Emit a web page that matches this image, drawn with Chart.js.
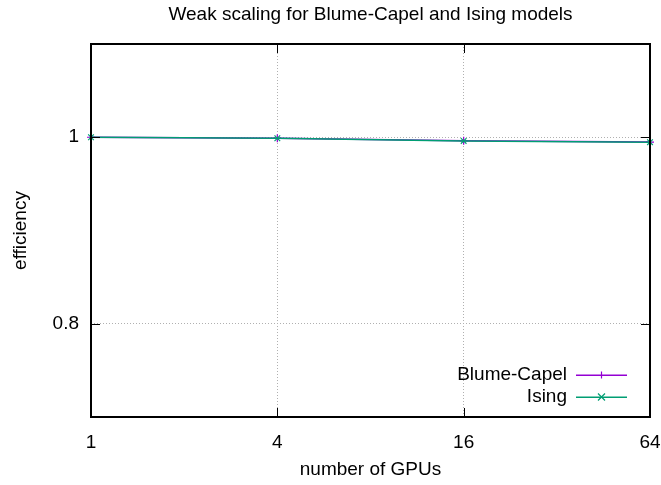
<!DOCTYPE html>
<html><head><meta charset="utf-8">
<script src="https://cdn.jsdelivr.net/npm/chart.js@4"></script>
<style>html,body{margin:0;padding:0;background:#fff}#wrap{width:661px;height:485px}</style>
</head><body><div id="wrap"><canvas id="c" width="661" height="485"></canvas></div>
<script>
const gpus = [1, 4, 16, 64];
const blumeCapel = [1.0, 0.9990, 0.9963, 0.9948];
const ising = [1.0, 0.9989, 0.9961, 0.9947];
const xTicks = [1, 4, 16, 64];
const yTicks = [0.8, 1.0];
const titleText = 'Weak scaling for Blume-Capel and Ising models';
const FONT = "'Liberation Sans', Arial, sans-serif";
const FS = 19;
const COLORS = ['#9400d3', '#009e73'];

const frame = {
  id: 'frame',
  afterDraw(chart) {
    const {ctx, chartArea: a, scales: {x, y}} = chart;
    ctx.save();
    ctx.setLineDash([]);
    ctx.globalAlpha = 1;
    ctx.strokeStyle = '#000';
    ctx.lineWidth = 1;
    ctx.beginPath();
    xTicks.forEach(v => {
      const px = Math.round(x.getPixelForValue(v)) + 0.5;
      ctx.moveTo(px, a.bottom); ctx.lineTo(px, a.bottom - 9);
      ctx.moveTo(px, a.top); ctx.lineTo(px, a.top + 9);
    });
    yTicks.forEach(v => {
      const py = Math.round(y.getPixelForValue(v)) + 0.5;
      ctx.moveTo(a.left, py); ctx.lineTo(a.left + 9, py);
      ctx.moveTo(a.right, py); ctx.lineTo(a.right - 9, py);
    });
    ctx.stroke();
    ctx.lineWidth = 2;
    ctx.strokeRect(a.left, a.top, a.right - a.left, a.bottom - a.top);
    // title
    ctx.font = FS + 'px ' + FONT;
    ctx.fillStyle = '#000';
    ctx.textAlign = 'center';
    ctx.textBaseline = 'middle';
    ctx.fillText(titleText, (a.left + a.right) / 2, 15);
    // legend
    ctx.textAlign = 'right';
    const items = chart.data.datasets;
    items.forEach((ds, i) => {
      const ly = 375 + i * 22;
      ctx.fillStyle = '#000';
      ctx.fillText(ds.label, 567, ly);
      ctx.fillStyle = COLORS[i];
      ctx.fillRect(576, ly - 0.5, 51, 1.5);
      ctx.strokeStyle = COLORS[i];
      ctx.lineWidth = 1.2;
      const cx = 601.5, s = 3.5;
      ctx.beginPath();
      if (i === 0) {
        ctx.moveTo(cx, ly - s); ctx.lineTo(cx, ly + s);
      } else {
        ctx.moveTo(cx - s, ly - s); ctx.lineTo(cx + s, ly + s);
        ctx.moveTo(cx - s, ly + s); ctx.lineTo(cx + s, ly - s);
      }
      ctx.stroke();
    });
    ctx.restore();
  }
};

new Chart(document.getElementById('c'), {
  type: 'line',
  data: {
    labels: gpus,
    datasets: [
      {label: 'Blume-Capel', order: 1, clip: false, data: gpus.map((g, i) => ({x: g, y: blumeCapel[i]})), borderColor: COLORS[0], backgroundColor: COLORS[0], borderWidth: 1.5, pointStyle: 'cross', pointRadius: 4, pointBorderWidth: 1.2, tension: 0},
      {label: 'Ising', order: 0, clip: false, data: gpus.map((g, i) => ({x: g, y: ising[i]})), borderColor: COLORS[1], backgroundColor: COLORS[1], borderWidth: 1.5, pointStyle: 'crossRot', pointRadius: 4, pointBorderWidth: 1.2, tension: 0}
    ]
  },
  options: {
    responsive: false,
    animation: false,
    events: [],
    layout: {padding: {top: 44, right: 11, bottom: 0, left: 0}},
    plugins: {
      legend: {display: false},
      tooltip: {enabled: false},
      title: {display: false}
    },
    scales: {
      x: {
        type: 'logarithmic', min: 1, max: 64,
        afterBuildTicks: s => { s.ticks = xTicks.map(v => ({value: v})); },
        afterFit: s => { s.height = 68; s.paddingLeft = 0; s.paddingRight = 0; },
        ticks: {color: '#000', font: {family: FONT, size: FS}, padding: 14, maxRotation: 0, callback: v => String(v)},
        grid: {color: '#b0b0b0', lineWidth: 1, drawTicks: false},
        border: {display: false, dash: [1, 2]},
        title: {display: true, text: 'number of GPUs', color: '#000', font: {family: FONT, size: FS}, padding: {top: 0, bottom: 4}}
      },
      y: {
        min: 0.7, max: 1.1,
        afterBuildTicks: s => { s.ticks = yTicks.map(v => ({value: v})); },
        afterFit: s => { s.width = 91; s.paddingTop = 0; s.paddingBottom = 0; },
        ticks: {color: '#000', font: {family: FONT, size: FS}, padding: 12, callback: v => (v === 1 ? '1' : String(v))},
        grid: {color: '#b0b0b0', lineWidth: 1, drawTicks: false},
        border: {display: false, dash: [1, 2]},
        title: {display: true, text: 'efficiency', color: '#000', font: {family: FONT, size: FS}, padding: {top: 9, bottom: 9}}
      }
    }
  },
  plugins: [frame]
});
</script>
</body></html>
